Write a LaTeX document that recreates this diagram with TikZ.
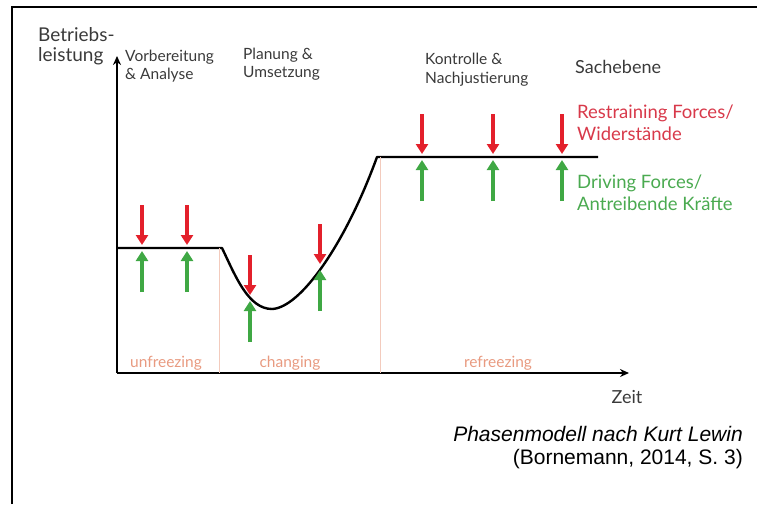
\documentclass[tikz,border=0pt]{standalone}
\usepackage{fontspec}
\setmainfont{Lato}
\newfontfamily\capfont{Liberation Sans}
\usetikzlibrary{arrows.meta}

\definecolor{forcered}{HTML}{E3202B}
\definecolor{forcegreen}{HTML}{3FA844}
\definecolor{textred}{HTML}{D8394A}
\definecolor{textgreen}{HTML}{4AAA50}
\definecolor{phasetext}{HTML}{E89A80}
\definecolor{phaseline}{HTML}{F3CBBD}
\definecolor{labelgray}{HTML}{3A3A3A}

\begin{document}
\begin{tikzpicture}[x=1pt,y=-1pt]

% Diagram style
\tikzset{
    axis/.style={line width=2.6pt,-{Stealth[length=9pt,width=8pt]}},
    level/.style={line width=2.4pt,line join=round},
    phasesep/.style={phaseline,line width=1pt},
    redforce/.style={forcered,line width=4pt,-{Triangle[length=10pt,width=12pt]}},
    greenforce/.style={forcegreen,line width=4pt,-{Triangle[length=10pt,width=12pt]}},
    lbl/.style={inner sep=0pt,anchor=north west,align=left,text=labelgray},
    phase/.style={inner sep=0pt,text=phasetext,font=\fontsize{15.5}{18}\selectfont}
}

\useasboundingbox (0,0) rectangle (757,504);

% Frame
\draw[line width=2pt] (12,504) -- (12,7) -- (757,7);

% Axes
\coordinate (O) at (117,373);
\coordinate (yEnd) at (117,56);
\coordinate (xEnd) at (629,373);
\draw[axis] (O) -- (yEnd);
\draw[axis] (O) -- (xEnd);
\node[lbl,font=\fontsize{19}{20}\selectfont] (ylab) at (38,27) {Betriebs-\\leistung};
\node[inner sep=0pt,text=labelgray,font=\fontsize{18}{20}\selectfont] (time) at (627,397) {Zeit};

% Level curve
\coordinate (A) at (117,248);
\coordinate (B) at (222,248);
\coordinate (C) at (272,309);
\coordinate (D) at (377,157);
\coordinate (E) at (598,157);
\draw[level] (A) -- (B) .. controls (235,275) and (248,309) .. (C)
    .. controls (300,308) and (345,245) .. (D) -- (E);

% Phase separators
\draw[phasesep] (219,248) -- (219,373);
\draw[phasesep] (380,157) -- (380,373);
\node[phase] (unfr) at (166,363) {unfreezing};
\node[phase] (chg) at (290,363) {changing};
\node[phase] (refr) at (498,363) {refreezing};

% Phase titles
\node[lbl,font=\fontsize{15.5}{18}\selectfont] (prep) at (125,50) {Vorbereitung\\\& Analyse};
\node[lbl,font=\fontsize{15.5}{18}\selectfont] (plan) at (243,48) {Planung \&\\Umsetzung};
\node[lbl,font=\fontsize{15.5}{19}\selectfont] (ctrl) at (425,53) {Kontrolle \&\\Nachjustierung};
\node[lbl,font=\fontsize{18}{20}\selectfont] (sach) at (575,60) {Sachebene};

% Forces
\coordinate (fa) at (142,248);
\coordinate (fb) at (187,248);
\coordinate (fc) at (250,298);
\coordinate (fd) at (320,267);
\coordinate (fe) at (422,157);
\coordinate (ff) at (493,157);
\coordinate (fg) at (562,157);
\foreach \p in {fa,fb,fc,fd,fe,ff,fg}{
    \draw[redforce] (\p) ++(0,-43) -- ++(0,40);
    \draw[greenforce] (\p) ++(0,44) -- ++(0,-41);
}
\node[lbl,text=textred,font=\fontsize{18.5}{22}\selectfont] (restr) at (577,105) {Restraining Forces/\\Widerstände};
\node[lbl,text=textgreen,font=\fontsize{18.5}{22}\selectfont] (drive) at (577,175) {Driving Forces/\\Antreibende Kräfte};

% Source
\node[inner sep=0pt,anchor=north east,align=right,font=\capfont\fontsize{21}{23}\selectfont] (cite) at (743,426)
    {\itshape Phasenmodell nach Kurt Lewin\\(Bornemann, 2014, S. 3)};

\end{tikzpicture}
\end{document}
